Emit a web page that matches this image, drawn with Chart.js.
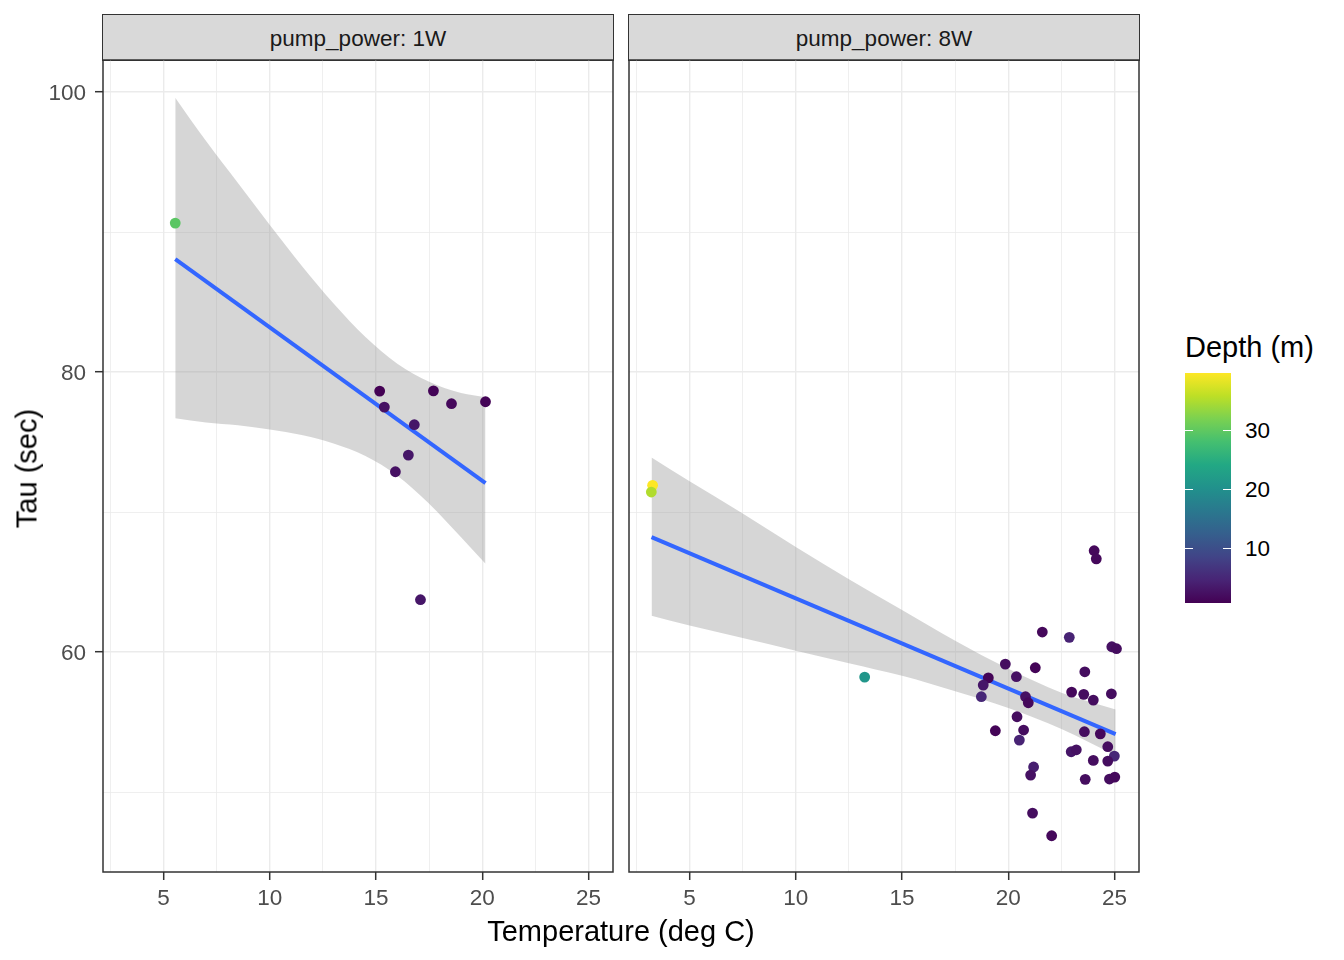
<!DOCTYPE html>
<html><head><meta charset="utf-8">
<script src="https://cdn.jsdelivr.net/npm/chart.js@4.4.1/dist/chart.umd.min.js"></script>
<style>
html,body{margin:0;padding:0;background:#fff;}
body{width:1344px;height:960px;position:relative;overflow:hidden;font-family:"Liberation Sans",Arial,sans-serif;}
.strip{position:absolute;top:13.75px;height:47px;background:#d9d9d9;border:1.5px solid #333;box-sizing:border-box;}
.striptext{position:absolute;left:0;right:0;top:13px;text-align:center;font-size:22.5px;line-height:22.5px;color:#1a1a1a;white-space:nowrap;}
.cv{position:absolute;top:0;}
.t{position:absolute;white-space:nowrap;}
</style>
</head><body>
<div class="strip" style="left:102.25px;width:511.5px;"><div class="striptext">pump_power: 1W</div></div>
<div class="strip" style="left:628.25px;width:511.5px;"><div class="striptext">pump_power: 8W</div></div>
<canvas id="c1" class="cv" width="620" height="960" style="left:0;width:620px;height:960px;"></canvas>
<canvas id="c2" class="cv" width="530" height="960" style="left:620px;width:530px;height:960px;"></canvas>
<div class="t" style="left:421px;width:400px;top:916.5px;text-align:center;font-size:29px;line-height:29px;color:#000;">Temperature (deg C)</div>
<div class="t" style="left:-173.5px;width:400px;top:453.5px;text-align:center;font-size:29px;line-height:29px;color:#000;transform:rotate(-90deg);transform-origin:50% 50%;">Tau (sec)</div>
<div id="legend"></div>
<script>
// ---------- data ----------
const xMajorTicks = [5, 10, 15, 20, 25];
const xMinorTicks = [2.5, 7.5, 12.5, 17.5, 22.5];
const yMajorTicks = [60, 80, 100];
const yMinorTicks = [50, 70, 90];
const depthTicks = [10, 20, 30];

const leftTemp  = [5.55, 15.17, 15.39, 17.70, 18.55, 20.15, 16.80, 16.52, 15.91, 17.09];
const leftTau   = [90.64, 78.64, 77.50, 78.66, 77.74, 77.88, 76.24, 74.07, 72.88, 63.74];
const leftDepth = [29.5, 0.7, 2.5, 1.0, 1.5, 1.0, 3.0, 3.0, 2.5, 3.0];

const rightTemp  = [3.26, 3.20, 13.24, 24.04, 24.14, 21.60, 22.87, 24.87, 25.09, 19.86, 21.27, 23.60, 19.06, 20.38, 18.82, 18.73, 20.81, 20.94, 22.98, 23.55, 24.00, 24.85, 20.41, 19.39, 20.72, 20.52, 23.58, 24.33, 24.68, 24.99, 22.96, 23.20, 24.00, 24.68, 21.19, 21.05, 23.62, 24.76, 25.01, 21.14, 22.04];
const rightTau   = [71.91, 71.43, 58.21, 67.24, 66.66, 61.43, 61.05, 60.38, 60.24, 59.14, 58.88, 58.59, 58.16, 58.24, 57.64, 56.81, 56.81, 56.38, 57.14, 56.98, 56.57, 57.02, 55.38, 54.38, 54.43, 53.71, 54.31, 54.16, 53.24, 52.57, 52.88, 53.02, 52.26, 52.21, 51.79, 51.21, 50.91, 50.93, 51.07, 48.50, 46.88];
const rightDepth = [39.6, 35.0, 21.0, 1.5, 1.5, 1.5, 4.5, 2.5, 2.0, 2.0, 1.0, 2.0, 1.0, 2.5, 3.0, 5.0, 2.5, 1.5, 1.5, 2.0, 2.0, 2.0, 2.0, 1.0, 2.0, 4.5, 2.0, 1.5, 2.0, 5.0, 3.0, 2.5, 2.0, 2.0, 4.0, 2.5, 2.0, 2.0, 1.5, 2.0, 1.5];

const leftFitTemp = [5.55, 20.15];
const leftFitTau  = [88.07, 72.07];
const rightFitTemp = [3.21, 25.05];
const rightFitTau  = [68.21, 54.14];

const leftBandTemp  = [5.55, 7, 8.5, 10, 11.5, 13, 14.5, 16, 17.5, 19, 20.15];
const leftBandUpper = [99.6, 96.5, 93.5, 90.5, 87.6, 84.9, 82.5, 80.6, 79.3, 78.5, 78.2];
const leftBandLower = [76.7, 76.4, 76.2, 75.9, 75.5, 74.9, 74.0, 72.6, 70.6, 68.2, 66.3];

const rightBandTemp  = [3.21, 5, 7.5, 10, 12.5, 15, 17.5, 20, 22.5, 25.05];
const rightBandUpper = [73.9, 72.2, 69.9, 67.5, 65.2, 63.0, 60.8, 58.8, 57.1, 55.9];
const rightBandLower = [62.6, 61.9, 61.0, 60.1, 59.2, 58.3, 57.2, 56.0, 54.5, 52.6];

// ---------- styling ----------
const X_MIN = 2.15, X_MAX = 26.15, Y_MIN = 44.29, Y_MAX = 102.29;
const FONT = '"Liberation Sans", Arial, sans-serif';
const viridisStops = ['#440154','#482475','#414487','#355f8d','#2a788e','#21918c','#22a884','#44bf70','#7ad151','#bddf26','#fde725'];
const allDepth = leftDepth.concat(rightDepth);
const D_MIN = Math.min(...allDepth), D_MAX = Math.max(...allDepth);
function hex(h){return [parseInt(h.slice(1,3),16),parseInt(h.slice(3,5),16),parseInt(h.slice(5,7),16)];}
function viridis(t){
  t = Math.max(0, Math.min(1, t));
  const p = t * (viridisStops.length - 1), i = Math.min(Math.floor(p), viridisStops.length - 2), f = p - i;
  const a = hex(viridisStops[i]), b = hex(viridisStops[i+1]);
  return 'rgb(' + a.map((v,k)=>Math.round(v + (b[k]-v)*f)).join(',') + ')';
}
const depthColor = d => viridis((d - D_MIN) / (D_MAX - D_MIN));

const panelBorder = {
  id: 'panelBorder',
  afterDraw(chart){
    const {ctx, chartArea:a} = chart;
    ctx.save(); ctx.strokeStyle = '#333333'; ctx.lineWidth = 1.5;
    ctx.strokeRect(a.left, a.top, a.right - a.left, a.bottom - a.top);
    ctx.restore();
  }
};

function datasets(temp, tau, depth, fitX, fitY, bandX, bandUp, bandLo){
  return [
    {type:'scatter', data: temp.map((x,i)=>({x, y: tau[i]})), pointRadius: 5.4, pointHoverRadius: 5.4,
     pointBackgroundColor: depth.map(depthColor), pointBorderWidth: 0, pointBorderColor: 'rgba(0,0,0,0)'},
    {type:'line', data: fitX.map((x,i)=>({x, y: fitY[i]})), borderColor:'#3366FF', borderWidth: 4,
     pointRadius: 0, fill: false, tension: 0},
    {type:'line', data: bandX.map((x,i)=>({x, y: bandUp[i]})), borderColor:'rgba(0,0,0,0)', borderWidth: 1,
     pointRadius: 0, fill: '+1', backgroundColor: 'rgba(153,153,153,0.4)', cubicInterpolationMode: 'monotone'},
    {type:'line', data: bandX.map((x,i)=>({x, y: bandLo[i]})), borderColor:'rgba(0,0,0,0)', borderWidth: 1,
     pointRadius: 0, fill: false, cubicInterpolationMode: 'monotone'}
  ];
}

function makeChart(id, ds, showY, padding){
  const xTicks = xMinorTicks.concat(xMajorTicks).sort((a,b)=>a-b);
  const yTicks = yMinorTicks.concat(yMajorTicks).sort((a,b)=>a-b);
  return new Chart(document.getElementById(id), {
    type: 'scatter',
    data: {datasets: ds},
    plugins: [panelBorder],
    options: {
      responsive: false, animation: false, devicePixelRatio: 1, events: [],
      layout: {padding},
      plugins: {legend: {display: false}, tooltip: {enabled: false}},
      scales: {
        x: {
          type: 'linear', min: X_MIN, max: X_MAX,
          afterBuildTicks: ax => { ax.ticks = xTicks.map(v => ({value: v})); },
          afterFit: s => { s.height = 88; },
          border: {display: false},
          grid: {
            color: '#ebebeb',
            lineWidth: c => xMajorTicks.includes(c.tick && c.tick.value) ? 1.4 : 0.8,
            drawTicks: true, tickLength: 8, tickWidth: 1.5,
            tickColor: c => xMajorTicks.includes(c.tick && c.tick.value) ? '#333333' : 'rgba(0,0,0,0)'
          },
          ticks: {
            autoSkip: false, maxRotation: 0, padding: 5, color: '#4d4d4d',
            font: {family: FONT, size: 22.5},
            callback: v => xMajorTicks.includes(v) ? String(v) : ''
          }
        },
        y: {
          type: 'linear', min: Y_MIN, max: Y_MAX,
          afterBuildTicks: ax => { ax.ticks = yTicks.map(v => ({value: v})); },
          afterFit: s => { s.width = showY ? 103 : 0; },
          border: {display: false},
          grid: {
            color: '#ebebeb',
            lineWidth: c => yMajorTicks.includes(c.tick && c.tick.value) ? 1.4 : 0.8,
            drawTicks: showY, tickLength: 8, tickWidth: 1.5,
            tickColor: c => yMajorTicks.includes(c.tick && c.tick.value) ? '#333333' : 'rgba(0,0,0,0)'
          },
          ticks: {
            display: showY, autoSkip: false, padding: 9, color: '#4d4d4d', labelOffset: 1.5,
            font: {family: FONT, size: 22.5},
            callback: v => yMajorTicks.includes(v) ? String(v) : ''
          }
        }
      }
    }
  });
}

makeChart('c1', datasets(leftTemp, leftTau, leftDepth, leftFitTemp, leftFitTau, leftBandTemp, leftBandUpper, leftBandLower),
  true, {left: 0, right: 7, top: 60, bottom: 0});
makeChart('c2', datasets(rightTemp, rightTau, rightDepth, rightFitTemp, rightFitTau, rightBandTemp, rightBandUpper, rightBandLower),
  false, {left: 9, right: 11, top: 60, bottom: 0});

// ---------- colourbar legend ----------
(function(){
  const L = document.getElementById('legend');
  const barLeft = 1185, barTop = 373.3, barW = 46, barH = 230;
  let html = '<div class="t" style="left:' + barLeft + 'px;top:332.5px;font-size:29px;line-height:29px;color:#000;">Depth (m)</div>';
  const stops = viridisStops.map((c,i)=> c + ' ' + (i*10) + '%').join(',');
  html += '<div style="position:absolute;left:' + barLeft + 'px;top:' + barTop + 'px;width:' + barW + 'px;height:' + barH + 'px;background:linear-gradient(to top,' + stops + ');"></div>';
  depthTicks.forEach(v => {
    const y = barTop + barH - (v - D_MIN) / (D_MAX - D_MIN) * barH;
    html += '<div style="position:absolute;left:' + barLeft + 'px;top:' + (y-0.5) + 'px;width:8px;height:1px;background:#fff;"></div>';
    html += '<div style="position:absolute;left:' + (barLeft + barW - 8) + 'px;top:' + (y-0.5) + 'px;width:8px;height:1px;background:#fff;"></div>';
    html += '<div class="t" style="left:1245px;top:' + (y - 10) + 'px;font-size:22.5px;line-height:22.5px;color:#000;">' + v + '</div>';
  });
  L.innerHTML = html;
})();
</script>
</body></html>
